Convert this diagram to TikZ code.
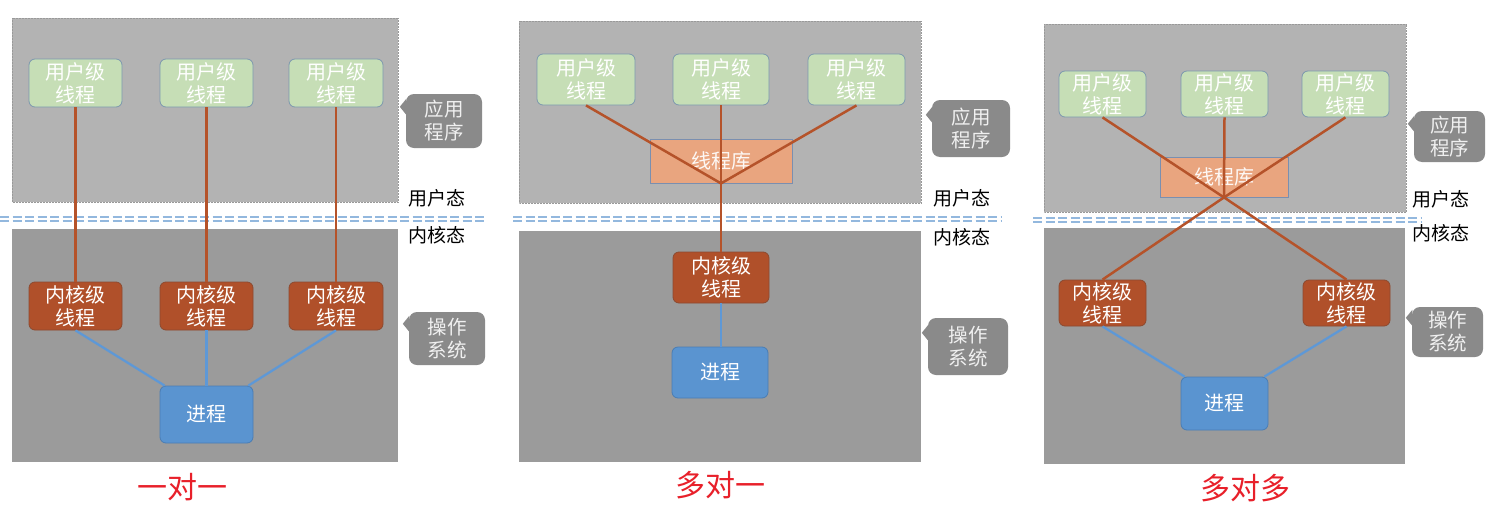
\documentclass[tikz,border=0pt]{standalone}
\usepackage{fontspec}
\newfontfamily\cjk{Noto Sans CJK SC}
\usetikzlibrary{calc}
\definecolor{upgray}{HTML}{B3B3B3}
\definecolor{lowgray}{HTML}{9B9B9B}
\definecolor{ugreen}{HTML}{C6DEB6}
\definecolor{uborder}{HTML}{7C98AE}
\definecolor{krust}{HTML}{B0502A}
\definecolor{kborder}{HTML}{8C4A30}
\definecolor{pblue}{HTML}{5A94D0}
\definecolor{pborder}{HTML}{4A7DB4}
\definecolor{libfill}{HTML}{E9A57F}
\definecolor{libborder}{HTML}{7A8FB0}
\definecolor{oline}{HTML}{B5532A}
\definecolor{bline}{HTML}{5E98D6}
\definecolor{callgray}{HTML}{8A8A8A}
\definecolor{dashblue}{HTML}{93B8DE}
\definecolor{titlered}{HTML}{E8202A}
\begin{document}
\begin{tikzpicture}[x=1pt,y=-1pt,
  box/.style={rounded corners=6pt, inner sep=0pt, align=center, line width=0.8pt,
    font=\cjk\fontsize{20}{23}\selectfont},
  uthread/.style={box, fill=ugreen, draw=uborder, text=white},
  kthread/.style={box, fill=krust, draw=kborder, text=white},
  proc/.style={box, fill=pblue, draw=pborder, text=white},
  lib/.style={box, rounded corners=0pt, fill=libfill, draw=libborder, text=white!92!libfill},
  callout/.style={rounded corners=8pt, inner sep=0pt, align=center, fill=callgray,
    text=white!94!black, font=\cjk\fontsize{19.5}{23}\selectfont},
  statelabel/.style={inner sep=0pt, text=black, font=\cjk\fontsize{19}{20}\selectfont},
  title/.style={inner sep=0pt, text=titlered, font=\cjk\fontsize{30}{32}\selectfont},
  uline/.style={draw=oline, line width=2.5pt},
  bluel/.style={draw=bline, line width=2.3pt},
  dashline/.style={draw=dashblue, line width=2pt, dash pattern=on 9pt off 3.5pt},
  upanel/.style={fill=upgray, draw=black!40, densely dotted, line width=0.5pt},
  lpanel/.style={fill=lowgray}
]
\useasboundingbox (0,0) rectangle (1497,509);
\fill[white] (0,0) rectangle (1497,509);

% ---------------- panels ----------------
\path[upanel] (12,18) rectangle (398,202);
\path[lpanel] (12,229) rectangle (398,462);
\path[upanel] (519,21) rectangle (921,203);
\path[lpanel] (519,231) rectangle (921,462);
\path[upanel] (1044,24) rectangle (1406,212);
\path[lpanel] (1044,228) rectangle (1405,464);

% dashed separators
\draw[dashline] (0,216.5) -- (485,216.5);
\draw[dashline] (0,220.5) -- (485,220.5);
\draw[dashline] (513,216.5) -- (1002,216.5);
\draw[dashline] (513,220.5) -- (1002,220.5);
\draw[dashline] (1033,218) -- (1422,218);
\draw[dashline] (1033,222) -- (1422,222);

% ---------------- panel 1: one to one ----------------
\node[uthread, minimum width=93pt, minimum height=48pt] (U1a) at (75.5,83) {用户级\\线程};
\node[uthread, minimum width=93pt, minimum height=48pt] (U1b) at (206.5,83) {用户级\\线程};
\node[uthread, minimum width=94pt, minimum height=48pt] (U1c) at (336,83) {用户级\\线程};
\node[kthread, minimum width=93pt, minimum height=48pt] (K1a) at (75.5,306) {内核级\\线程};
\node[kthread, minimum width=93pt, minimum height=48pt] (K1b) at (206.5,306) {内核级\\线程};
\node[kthread, minimum width=94pt, minimum height=48pt] (K1c) at (336,306) {内核级\\线程};
\node[proc, minimum width=93pt, minimum height=57pt] (P1) at (206.5,414.5) {进程};
\draw[uline] (U1a.south) -- (K1a.north);
\draw[uline] (U1b.south) -- (K1b.north);
\draw[uline] (U1c.south) -- (K1c.north);
\draw[bluel] (K1a.south) -- ($(P1.north west)+(5,0)$);
\draw[bluel] (K1b.south) -- (P1.north);
\draw[bluel] (K1c.south) -- ($(P1.north east)+(-5,0)$);

\node[callout, minimum width=76pt, minimum height=54pt] (C1a) at (444,121) {应用\\程序};
\fill[callgray] ($(C1a.north west)+(0.5,5)$) -- ++(-6.5,8) -- ++(6.5,8) -- cycle;
\node[callout, minimum width=76pt, minimum height=53pt] (C1b) at (447,338.5) {操作\\系统};
\fill[callgray] ($(C1b.north west)+(0.5,4)$) -- ++(-6.5,8) -- ++(6.5,8) -- cycle;
\node[statelabel] (S1u) at (437,198) {用户态};
\node[statelabel] (S1k) at (437,235) {内核态};
\node[title] (T1) at (182,487) {一对一};

% ---------------- panel 2: many to one ----------------
\node[uthread, minimum width=98pt, minimum height=51pt] (U2a) at (586,79.5) {用户级\\线程};
\node[uthread, minimum width=96pt, minimum height=51pt] (U2b) at (721,79.5) {用户级\\线程};
\node[uthread, minimum width=97pt, minimum height=51pt] (U2c) at (856.5,79.5) {用户级\\线程};
\node[lib, minimum width=142pt, minimum height=44pt] (L2) at (721,161) {线程库};
\node[kthread, minimum width=96pt, minimum height=51pt] (K2) at (721,277.5) {内核级\\线程};
\node[proc, minimum width=96pt, minimum height=51pt] (P2) at (720,372.5) {进程};
\draw[uline] (U2a.south) -- (L2.south);
\draw[uline] (U2b.south) -- (L2.south);
\draw[uline] (U2c.south) -- (L2.south);
\draw[uline] (L2.south) -- (K2.north);
\draw[bluel] (K2.south) -- (P2.north -| K2.south);

\node[callout, minimum width=78pt, minimum height=57pt] (C2a) at (971,128.5) {应用\\程序};
\fill[callgray] ($(C2a.north west)+(0.5,7)$) -- ++(-6.5,8) -- ++(6.5,8) -- cycle;
\node[callout, minimum width=80pt, minimum height=57pt] (C2b) at (968,346.5) {操作\\系统};
\fill[callgray] ($(C2b.north west)+(0.5,7)$) -- ++(-6.5,8) -- ++(6.5,8) -- cycle;
\node[statelabel] (S2u) at (962,198) {用户态};
\node[statelabel] (S2k) at (962,237) {内核态};
\node[title] (T2) at (720,485) {多对一};

% ---------------- panel 3: many to many ----------------
\node[uthread, minimum width=87pt, minimum height=46pt] (U3a) at (1102.5,94) {用户级\\线程};
\node[uthread, minimum width=87pt, minimum height=46pt] (U3b) at (1224.5,94) {用户级\\线程};
\node[uthread, minimum width=87pt, minimum height=46pt] (U3c) at (1345.5,94) {用户级\\线程};
\node[lib, minimum width=128pt, minimum height=40pt] (L3) at (1224,177) {线程库};
\node[kthread, minimum width=87pt, minimum height=46pt] (K3a) at (1102.5,303) {内核级\\线程};
\node[kthread, minimum width=87pt, minimum height=46pt] (K3b) at (1346.5,303) {内核级\\线程};
\node[proc, minimum width=87pt, minimum height=53pt] (P3) at (1224.5,403.5) {进程};
\draw[uline] (U3a.south) -- (L3.south) -- (K3b.north);
\draw[uline] (U3c.south) -- (L3.south) -- (K3a.north);
\draw[uline] (U3b.south) -- (L3.south);
\draw[bluel] (K3a.south) -- ($(P3.north west)+(4,0)$);
\draw[bluel] (K3b.south) -- ($(P3.north east)+(-4,0)$);

\node[callout, minimum width=71pt, minimum height=51pt] (C3a) at (1449.5,136.5) {应用\\程序};
\fill[callgray] ($(C3a.north west)+(0.5,5)$) -- ++(-6.5,8) -- ++(6.5,8) -- cycle;
\node[callout, minimum width=71pt, minimum height=50pt] (C3b) at (1447.5,332) {操作\\系统};
\fill[callgray] ($(C3b.north west)+(0.5,3)$) -- ++(-6.5,8) -- ++(6.5,8) -- cycle;
\node[statelabel] (S3u) at (1441,199) {用户态};
\node[statelabel] (S3k) at (1441,233) {内核态};
\node[title] (T3) at (1245,488) {多对多};
\end{tikzpicture}
\end{document}
